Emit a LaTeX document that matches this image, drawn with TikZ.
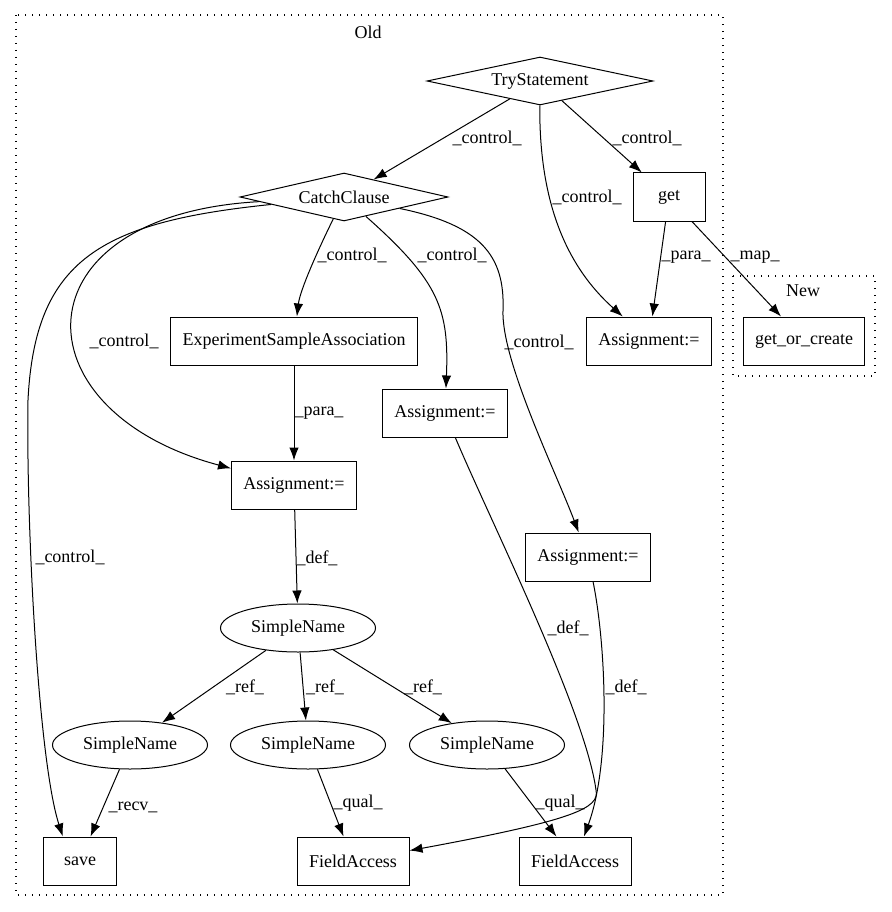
\documentclass[tikz,border=0pt]{standalone}
\usepackage{fontspec}
\setmainfont{Liberation Serif}
\usetikzlibrary{arrows.meta,shapes.geometric}

\begin{document}
\begin{tikzpicture}[x=1pt, y=-1pt, every node/.style={font=\fontsize{18}{21}\selectfont}]
\tikzset{box/.style = {shape=rectangle, draw, line width=1pt, minimum height=48pt, inner sep=0pt}}
\tikzset{cond/.style = {shape=diamond, draw, line width=1pt, aspect=4.5, minimum height=48pt, inner sep=0pt}}
\tikzset{sname/.style = {shape=ellipse, draw, line width=1pt, minimum width=155pt, minimum height=48pt, inner sep=0pt}}
\tikzset{edge/.style = {->, >={Latex[length=13pt,width=9.5pt]}, line width=1pt}}
\tikzset{cluster/.style = {draw, line width=1.3pt, dash pattern=on 1.3pt off 5.7pt}}

\useasboundingbox (0,0) rectangle (891,912);

% clusters
\draw[cluster] (16,15) rectangle (723,895);
\node (old) at (368,32) {Old};
\draw[cluster] (733,276) rectangle (875,376);
\node (new) at (803,291) {New};

% vertices
\node[cond, minimum width=226pt] (try) at (540,81) {TryStatement};
\node[cond, minimum width=208pt] (catch) at (344,197) {CatchClause};
\node[box, minimum width=72pt] (get) at (669,197) {get};
\node[box, minimum width=125pt] (asgT) at (649,341) {Assignment:=};
\node[box, minimum width=121pt] (goc) at (804,341) {get\_or\_create};
\node[box, minimum width=247pt] (esa) at (294,341) {ExperimentSampleAssociation};
\node[box, minimum width=125pt] (asgM) at (445,413) {Assignment:=};
\node[box, minimum width=125pt] (asgL) at (294,485) {Assignment:=};
\node[box, minimum width=125pt] (asgR) at (588,557) {Assignment:=};
\node[sname] (snT) at (298,628) {SimpleName};
\node[sname] (snL) at (130,745) {SimpleName};
\node[sname] (snM) at (308,745) {SimpleName};
\node[sname] (snR) at (487,745) {SimpleName};
\node[box, minimum width=73pt] (save) at (80,861) {save};
\node[box, minimum width=112pt] (faL) at (353,861) {FieldAccess};
\node[box, minimum width=112pt] (faR) at (575,861) {FieldAccess};

%edges
\draw[edge] (try) to (catch);
\draw[edge] (try) to (get);
\draw[edge] (try) .. controls (539,200) and (565,265) .. (asgT.137);
\draw[edge] (get) to (asgT);
\draw[edge] (get) to (goc);
\draw[edge] (catch) .. controls (318,250) and (300,290) .. (esa);
\draw[edge] (catch) .. controls (440,282) and (449,310) .. (asgM);
\draw[edge] (catch) .. controls (480,225) and (505,255) .. (503,310) .. controls (501,360) and (555,470) .. (asgR);
\draw[edge] (catch) .. controls (15,215) and (15,411) .. (asgL);
\draw[edge] (catch) .. controls (100,222) and (35,260) .. (28,400) .. controls (26,520) and (38,760) .. (save.125);
\draw[edge] (esa) to (asgL);
\draw[edge] (asgL) to (snT);
\draw[edge] (asgM) .. controls (490,520) and (585,710) .. (596,790) .. controls (600,808) and (575,820) .. (faL);
\draw[edge] (asgR) .. controls (605,640) and (612,760) .. (faR);
\draw[edge] (snT) to (snL);
\draw[edge] (snT) to (snM);
\draw[edge] (snT) to (snR);
\draw[edge] (snL) to (save);
\draw[edge] (snM) to (faL);
\draw[edge] (snR) to (faR);

% edge labels
\node (l1) at (487,138) {\_control\_};
\node (l2) at (587,197) {\_control\_};
\node (l3) at (647,138) {\_control\_};
\node (l4) at (686,257) {\_para\_};
\node (l5) at (755,257) {\_map\_};
\node (l6) at (352,255) {\_control\_};
\node (l7) at (452,255) {\_control\_};
\node (l8) at (539,342) {\_control\_};
\node (l9) at (124,341) {\_control\_};
\node (l10) at (70,557) {\_control\_};
\node (l11) at (319,413) {\_para\_};
\node (l12) at (317,558) {\_def\_};
\node (l13) at (568,628) {\_def\_};
\node (l14) at (626,687) {\_def\_};
\node (l15) at (245,687) {\_ref\_};
\node (l16) at (325,687) {\_ref\_};
\node (l17) at (423,687) {\_ref\_};
\node (l18) at (133,807) {\_recv\_};
\node (l19) at (358,803) {\_qual\_};
\node (l20) at (560,803) {\_qual\_};

\end{tikzpicture}
\end{document}
